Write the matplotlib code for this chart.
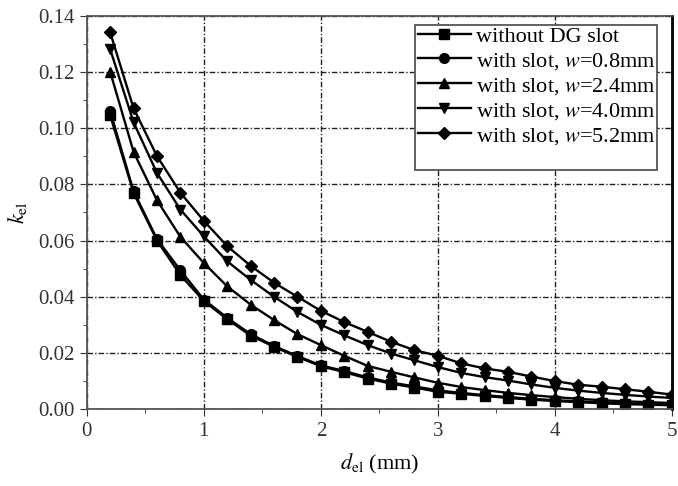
import matplotlib.pyplot as plt
from matplotlib.patches import Rectangle
from matplotlib.ticker import MultipleLocator

plt.rcParams["font.family"] = ["Liberation Serif", "DejaVu Serif"]
plt.rcParams["mathtext.fontset"] = "stix"

d_el = [0.2, 0.4, 0.6, 0.8, 1.0, 1.2, 1.4, 1.6, 1.8, 2.0, 2.2, 2.4, 2.6,
        2.8, 3.0, 3.2, 3.4, 3.6, 3.8, 4.0, 4.2, 4.4, 4.6, 4.8, 5.0]

k_no_slot = [0.1045, 0.0769, 0.0600, 0.0477, 0.0385, 0.0320, 0.0262, 0.0222, 0.0186,
             0.0153, 0.0132, 0.0109, 0.0091, 0.0077, 0.0062, 0.0055, 0.0047, 0.0040,
             0.0034, 0.0029, 0.0025, 0.0021, 0.0018, 0.0016, 0.0014]
k_w08 = [0.1060, 0.0775, 0.0605, 0.0494, 0.0390, 0.0325, 0.0267, 0.0225, 0.0189,
         0.0156, 0.0136, 0.0113, 0.0095, 0.0081, 0.0067, 0.0058, 0.0050, 0.0043,
         0.0037, 0.0032, 0.0028, 0.0024, 0.0021, 0.0018, 0.0016]
k_w24 = [0.1200, 0.0915, 0.0743, 0.0613, 0.0520, 0.0437, 0.0372, 0.0317, 0.0267,
         0.0228, 0.0190, 0.0154, 0.0133, 0.0113, 0.0094, 0.0079, 0.0068, 0.0058,
         0.0050, 0.0043, 0.0037, 0.0032, 0.0028, 0.0025, 0.0022]
k_w40 = [0.1280, 0.1020, 0.0840, 0.0710, 0.0615, 0.0526, 0.0460, 0.0400, 0.0346,
         0.0300, 0.0263, 0.0228, 0.0198, 0.0174, 0.0150, 0.0129, 0.0114, 0.0102,
         0.0088, 0.0076, 0.0066, 0.0058, 0.0051, 0.0045, 0.0040]
k_w52 = [0.1340, 0.1070, 0.0900, 0.0770, 0.0670, 0.0580, 0.0510, 0.0450, 0.0400,
         0.0350, 0.0310, 0.0275, 0.0240, 0.0210, 0.0190, 0.0163, 0.0145, 0.0133,
         0.0116, 0.0100, 0.0087, 0.0080, 0.0071, 0.0062, 0.0052]

series = [
    (k_no_slot, "s", "without DG slot"),
    (k_w08, "o", "with slot, $w$=0.8mm"),
    (k_w24, "^", "with slot, $w$=2.4mm"),
    (k_w40, "v", "with slot, $w$=4.0mm"),
    (k_w52, "D", "with slot, $w$=5.2mm"),
]

fig = plt.figure(figsize=(6.78, 4.86), dpi=100)
ax = fig.add_axes([0.128, 0.158, 0.863, 0.81])

for values, marker, label in series:
    ms = 6 if marker == "D" else 7
    ax.plot(d_el, values, color="black", linewidth=1.7, marker=marker,
            markersize=ms, label=label)

ax.set_xlim(0, 5)
ax.set_ylim(0, 0.14)
ax.xaxis.set_major_locator(MultipleLocator(1))
ax.xaxis.set_minor_locator(MultipleLocator(0.5))
ax.yaxis.set_major_locator(MultipleLocator(0.02))
ax.yaxis.set_minor_locator(MultipleLocator(0.01))
ax.yaxis.set_major_formatter(plt.FuncFormatter(lambda v, p: f"{v:.2f}"))
ax.tick_params(which="both", direction="out", labelsize=15, colors="#333333")
ax.tick_params(which="major", length=5, pad=4)
ax.tick_params(which="minor", length=3)

ax.grid(True, which="major", color="#222222", linestyle=(0, (4, 1.5, 1, 1.5)), linewidth=1.0)

for side in ["left", "top", "bottom"]:
    ax.spines[side].set_color("#555555")
    ax.spines[side].set_linewidth(1.3)
ax.spines["right"].set_color("black")
ax.spines["right"].set_linewidth(2.0)

ax.set_xlabel(r"$d_{\mathrm{el}}$ (mm)", fontsize=16, labelpad=8)
ax.set_ylabel(r"$k_{\mathrm{el}}$", fontsize=16, labelpad=6)

# legend box drawn separately so it can be taller than its entries
box = Rectangle((0.561, 0.607), 0.413, 0.368, transform=ax.transAxes,
                facecolor="white", edgecolor="#555555", linewidth=1.3, zorder=4)
ax.add_patch(box)
leg = ax.legend(loc="upper left", bbox_to_anchor=(0.561, 0.980), fontsize=16,
                handlelength=2.4, frameon=False, borderaxespad=0.0,
                labelspacing=0.18, handletextpad=0.22, borderpad=0.12)
leg.set_zorder(5)

plt.savefig("out.png", dpi=100, facecolor="white")
plt.close(fig)
